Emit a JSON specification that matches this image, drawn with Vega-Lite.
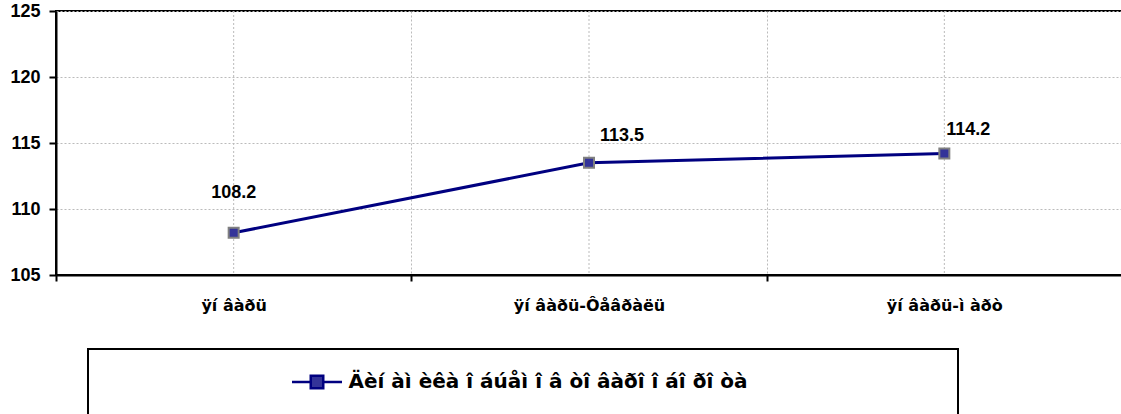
{
  "$schema": "https://vega.github.io/schema/vega-lite/v6.json",
  "autosize": "none",
  "padding": {"left": 56, "top": 11, "right": 0, "bottom": 139},
  "width": 1066,
  "height": 264,
  "background": "white",
  "data": {
    "values": [
      {"period": "ÿí âàðü", "value": 108.2, "series": "Äèí àì èêà î áúåì î â òî âàðî î áî ðî òà"},
      {"period": "ÿí âàðü-Ôåâðàëü", "value": 113.5, "series": "Äèí àì èêà î áúåì î â òî âàðî î áî ðî òà"},
      {"period": "ÿí âàðü-ì àðò", "value": 114.2, "series": "Äèí àì èêà î áúåì î â òî âàðî î áî ðî òà"}
    ]
  },
  "config": {
    "view": {"stroke": "black", "strokeWidth": 2},
    "axis": {
      "gridColor": "#bbbbbb",
      "gridDash": [2, 2],
      "gridWidth": 1,
      "domainColor": "black",
      "domainWidth": 2,
      "tickColor": "black",
      "tickWidth": 2,
      "labelColor": "black",
      "title": null
    }
  },
  "encoding": {
    "x": {
      "field": "period",
      "type": "nominal",
      "sort": null,
      "scale": {"type": "band", "paddingInner": 0, "paddingOuter": 0},
      "axis": {
        "tickBand": "extent",
        "grid": true,
        "tickSize": 6,
        "labelAngle": 0,
        "labelFont": "DejaVu Sans",
        "labelFontWeight": "bold",
        "labelFontSize": 16,
        "labelPadding": 16
      }
    },
    "y": {
      "field": "value",
      "type": "quantitative",
      "scale": {"domain": [105, 125], "nice": false, "zero": false},
      "axis": {
        "values": [105, 110, 115, 120, 125],
        "grid": true,
        "tickSize": 7,
        "labelPadding": 9,
        "labelFont": "Liberation Sans",
        "labelFontWeight": "bold",
        "labelFontSize": 18
      }
    }
  },
  "layer": [
    {
      "mark": {"type": "rule", "color": "#bbbbbb", "strokeDash": [2, 2], "strokeWidth": 1},
      "encoding": {"y": null}
    },
    {
      "mark": {"type": "line", "strokeWidth": 3},
      "encoding": {
        "color": {
          "field": "series",
          "type": "nominal",
          "scale": {"range": ["#000080"]},
          "legend": {
            "title": null,
            "orient": "none",
            "legendX": 32,
            "legendY": 338,
            "padding": 6.5,
            "strokeColor": "black",
            "fillColor": "white",
            "symbolType": "M-1,0H-0.25M0.25,0H1M-0.25,-0.25H0.25V0.25H-0.25ZM0,1.4",
            "symbolSize": 2500,
            "symbolOffset": 196,
            "symbolStrokeWidth": 2.5,
            "labelOffset": 5,
            "labelFont": "DejaVu Sans",
            "labelFontWeight": "bold",
            "labelFontSize": 20,
            "labelColor": "black",
            "labelLimit": 3000,
            "labelExpr": "pad(datum.label, 53, '\u2800')",
            "encode": {
              "symbols": {"update": {"fill": {"value": "#333399"}, "stroke": {"value": "#000080"}, "strokeWidth": {"value": 2.5}, "opacity": {"value": 1}}},
              "legend": {"update": {"strokeWidth": {"value": 2}}}
            }
          }
        }
      }
    },
    {
      "mark": {"type": "point", "shape": "square", "filled": true, "fill": "#333399", "stroke": "#808080", "strokeWidth": 2, "size": 100, "opacity": 1}
    },
    {
      "transform": [{"filter": "datum.period == 'ÿí âàðü'"}],
      "mark": {"type": "text", "font": "Liberation Sans", "fontWeight": "bold", "fontSize": 18, "color": "black", "align": "center", "baseline": "middle", "dx": 0, "dy": -40},
      "encoding": {"text": {"field": "value", "type": "quantitative", "format": ".1f"}}
    },
    {
      "transform": [{"filter": "datum.period == 'ÿí âàðü-Ôåâðàëü'"}],
      "mark": {"type": "text", "font": "Liberation Sans", "fontWeight": "bold", "fontSize": 18, "color": "black", "align": "center", "baseline": "middle", "dx": 33, "dy": -27},
      "encoding": {"text": {"field": "value", "type": "quantitative", "format": ".1f"}}
    },
    {
      "transform": [{"filter": "datum.period == 'ÿí âàðü-ì àðò'"}],
      "mark": {"type": "text", "font": "Liberation Sans", "fontWeight": "bold", "fontSize": 18, "color": "black", "align": "center", "baseline": "middle", "dx": 24, "dy": -24},
      "encoding": {"text": {"field": "value", "type": "quantitative", "format": ".1f"}}
    }
  ]
}
